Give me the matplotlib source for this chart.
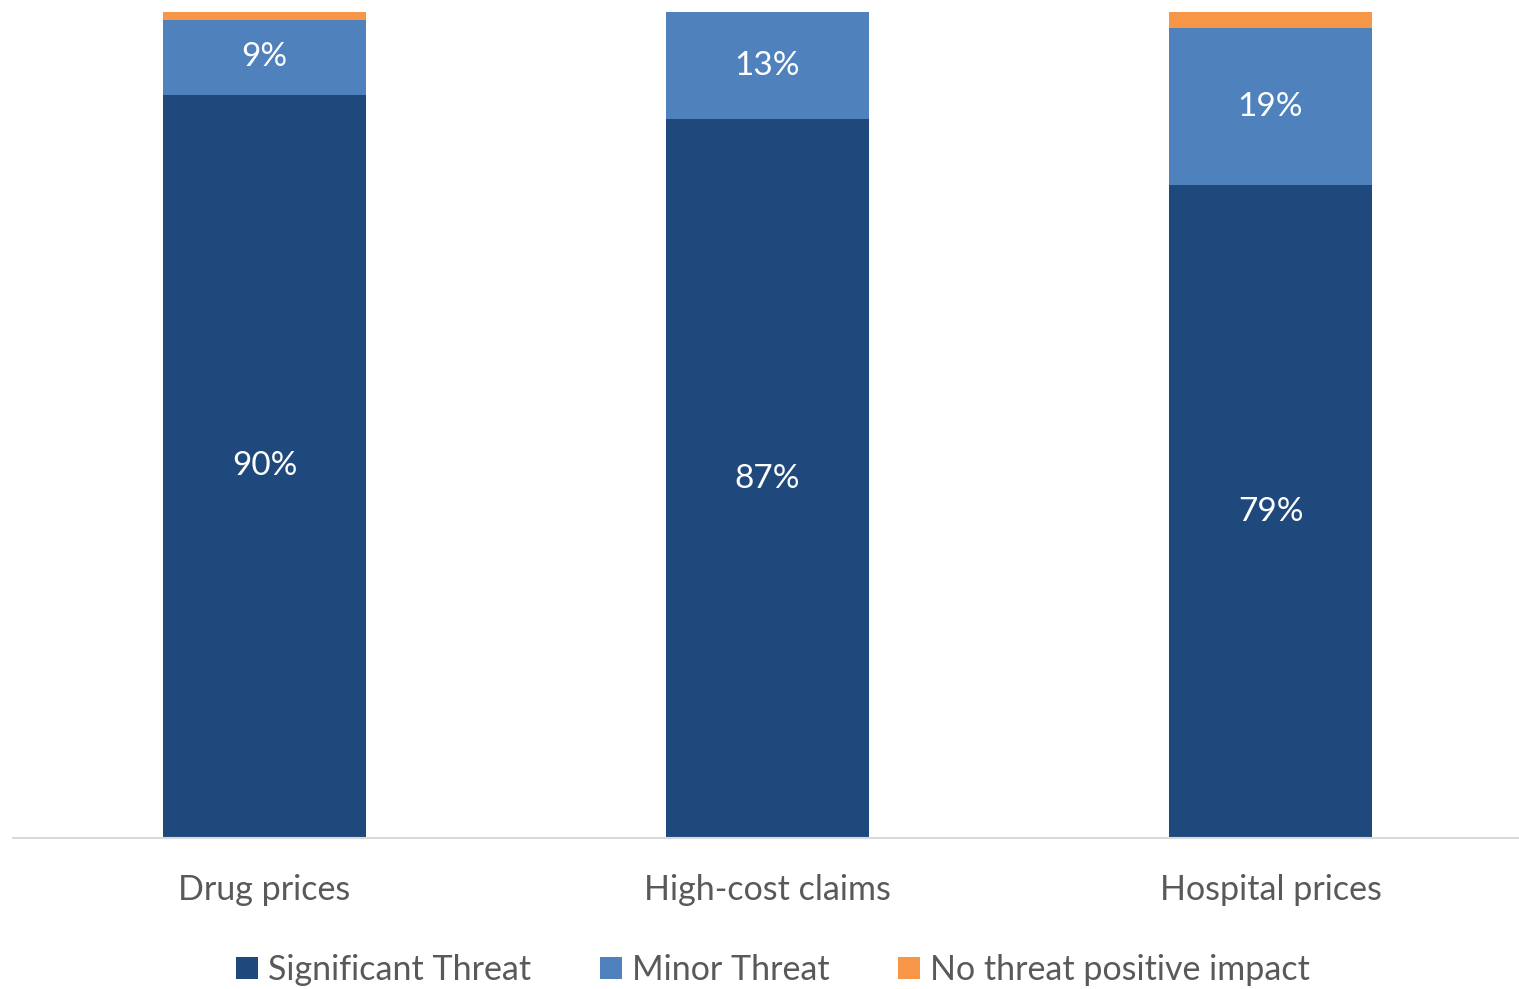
import matplotlib.pyplot as plt
import numpy as np

# survey results: share of respondents per threat level
categories = ['Drug prices', 'High-cost claims', 'Hospital prices']
significant = [0.90, 0.87, 0.79]
minor = [0.09, 0.13, 0.19]
no_threat = [0.01, 0.00, 0.02]

series_names = ['Significant Threat', 'Minor Threat', 'No threat positive impact']
colors = ['#1F497D', '#4F81BD', '#F79646']

plt.rcParams['font.family'] = ['Lato', 'DejaVu Sans']

fig = plt.figure(figsize=(15.19, 9.89), dpi=100)
ax = fig.add_axes([0.0086, 0.1527, 0.9934, 0.8352])

x = np.arange(len(categories))
width = 0.402

bottom = np.zeros(len(categories))
bars = []
for vals, color, name in zip([significant, minor, no_threat], colors, series_names):
    b = ax.bar(x, vals, width, bottom=bottom, color=color, label=name)
    bars.append((b, vals, bottom.copy()))
    bottom += np.array(vals)

# percentage labels for the two main segments
for b, vals, base in bars[:2]:
    for xi, v, b0 in zip(x, vals, base):
        ax.text(xi, b0 + v / 2, f'{v * 100:.0f}%', ha='center', va='center',
                color='white', fontsize=24)

ax.set_xlim(-0.5, 2.5)
ax.set_ylim(0, 1.0)
ax.set_xticks(x)
ax.set_xticklabels(categories, fontsize=24.5, color='#595959')
ax.tick_params(axis='x', length=0, pad=26)
ax.set_yticks([])
for side in ['top', 'right', 'left']:
    ax.spines[side].set_visible(False)
ax.spines['bottom'].set_color('#D9D9D9')
ax.spines['bottom'].set_linewidth(1.5)

leg = fig.legend(loc='center', bbox_to_anchor=(773 / 1519, 1 - 970 / 989), ncol=3,
                 frameon=False, fontsize=24.5, handlelength=0.65, handleheight=0.65,
                 handletextpad=0.3, columnspacing=2.0)
for t in leg.get_texts():
    t.set_color('#595959')

fig.savefig('out.png', dpi=100)
